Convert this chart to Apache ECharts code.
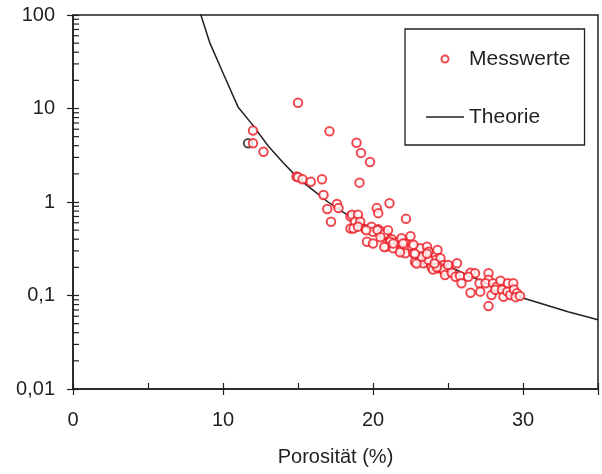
<!DOCTYPE html>
<html>
<head>
<meta charset="utf-8">
<script src="https://cdn.jsdelivr.net/npm/echarts@6/dist/echarts.min.js"></script>
<style>html,body{margin:0;padding:0;background:#fff;}#c{width:602px;height:474px;}</style>
</head>
<body>
<div id="c"></div>
<script>
// Messwerte: Porosität (%) and measured values
const messX = [15.0, 12.0, 12.0, 12.7, 17.1, 18.9, 19.2, 19.8, 14.9, 15.0, 15.3, 15.85, 16.6, 16.7, 16.95, 17.2, 17.6, 17.7, 19.1, 18.5, 18.5,
  21.1, 20.25, 20.35, 22.2, 18.6, 19.0, 18.8, 19.15, 18.7, 19.0, 19.5, 19.9, 20.0, 20.35, 20.6, 20.7, 19.6, 20.0, 20.9, 21.25, 21.15, 20.9, 21.35,
  21.7, 21.9, 22.15, 22.5, 21.9, 22.25, 22.6, 22.15, 22.7, 23.15, 23.6, 23.7, 24.3, 22.8, 23.15, 23.5, 23.6, 23.9, 24.15, 24.5, 24.35, 24.7, 24.8, 25.0,
  23.35, 23.7, 24.0, 24.35, 24.7, 25.0, 24.8, 25.25, 25.6, 25.5, 25.8, 25.9, 26.5, 26.8, 26.35, 27.1, 26.5, 27.15, 27.7, 27.7, 27.5, 27.9, 27.7,
  28.0, 28.25, 28.5, 28.15, 28.6, 28.7, 29.0, 28.95, 29.15, 29.35, 29.4, 29.6, 29.5, 29.8,
  19.55, 20.3, 20.75, 20.5, 21.0, 20.75, 21.35, 21.8, 22.0, 22.7, 22.9, 23.25, 23.6, 24.25, 24.1, 22.8];
const messY = [11.5, 5.8, 4.25, 3.45, 5.7, 4.3, 3.35, 2.68, 1.87, 1.84, 1.75, 1.65, 1.75, 1.19, 0.84, 0.615, 0.95, 0.86, 1.61, 0.70, 0.52,
  0.97, 0.86, 0.76, 0.66, 0.73, 0.73, 0.615, 0.615, 0.52, 0.545, 0.51, 0.545, 0.48, 0.51, 0.48, 0.43, 0.376, 0.36, 0.445, 0.40, 0.376, 0.333, 0.32,
  0.376, 0.41, 0.36, 0.43, 0.307, 0.32, 0.333, 0.283, 0.283, 0.32, 0.333, 0.294, 0.307, 0.23, 0.24, 0.26, 0.23, 0.203, 0.24, 0.25, 0.195, 0.212, 0.18, 0.195,
  0.221, 0.24, 0.19, 0.203, 0.19, 0.212, 0.166, 0.175, 0.221, 0.159, 0.162, 0.135, 0.175, 0.173, 0.159, 0.135, 0.107, 0.11, 0.173, 0.147, 0.135, 0.101, 0.077,
  0.135, 0.124, 0.144, 0.115, 0.115, 0.097, 0.135, 0.11, 0.101, 0.135, 0.116, 0.106, 0.096, 0.099,
  0.50, 0.50, 0.455, 0.42, 0.50, 0.33, 0.36, 0.29, 0.36, 0.35, 0.22, 0.26, 0.28, 0.20, 0.22, 0.28];
// single dark marker partly hidden behind a red one
const extraX = [11.67];
const extraY = [4.25];
// Theorie curve
const theoX = [8.42, 9.13, 10, 11, 12, 13, 14, 15, 16, 17, 18, 19, 20, 22, 24, 26, 28, 30, 33, 35];
const theoY = [113, 50, 24, 10.4, 6.6, 4.0, 2.65, 1.8, 1.34, 1.0, 0.78, 0.63, 0.50, 0.35, 0.245, 0.174, 0.126, 0.094, 0.067, 0.055];
// Axis ticks
const yMajorLabels = {0.01: '0,01', 0.1: '0,1', 1: '1', 10: '10', 100: '100'};
const yMinorTicks = [0.02,0.03,0.04,0.05,0.06,0.07,0.08,0.09, 0.2,0.3,0.4,0.5,0.6,0.7,0.8,0.9, 2,3,4,5,6,7,8,9, 20,30,40,50,60,70,80,90];
const xLabelled = [0, 10, 20, 30];

const zip = (a, b) => a.map((v, i) => [v, b[i]]);
const ink = '#231f20';
const red = '#ec1c24';
const font = "'Liberation Sans', Arial, sans-serif";

const chart = echarts.init(document.getElementById('c'));
chart.setOption({
  animation: false,
  backgroundColor: '#fff',
  textStyle: {fontFamily: font, color: ink},
  grid: {left: 73, right: 4, top: 15, bottom: 85, show: true, borderColor: ink, borderWidth: 1.5, backgroundColor: 'transparent'},
  legend: {
    left: 405, top: 29, orient: 'vertical',
    data: [{name: 'Messwerte', icon: 'emptyCircle'}, {name: 'Theorie', icon: 'path://M0,0L38,0L38,1.5L0,1.5Z'}],
    itemWidth: 38, itemHeight: 7, itemGap: 34,
    padding: [18, 14, 16, 21],
    borderColor: ink, borderWidth: 1.3, backgroundColor: '#fff',
    textStyle: {fontFamily: font, fontSize: 21, color: ink, lineHeight: 24}
  },
  xAxis: [{
    type: 'value', min: 0, max: 35, interval: 5, position: 'bottom',
    name: 'Porosität (%)', nameLocation: 'middle', nameGap: 58,
    nameTextStyle: {fontFamily: font, fontSize: 20, color: ink},
    axisLine: {show: true, lineStyle: {color: ink, width: 1.5}},
    axisTick: {show: true, inside: true, length: 6, lineStyle: {color: ink, width: 1.2}},
    axisLabel: {fontFamily: font, fontSize: 20, color: ink, margin: 21,
      formatter: v => xLabelled.indexOf(v) >= 0 ? String(v) : ''},
    splitLine: {show: false}
  }, {
    type: 'value', min: 0, max: 35, interval: 10, position: 'bottom', offset: 0,
    axisLine: {show: false},
    axisTick: {show: true, inside: false, length: 6, lineStyle: {color: ink, width: 1.2}},
    axisLabel: {show: false}, splitLine: {show: false}
  }],
  yAxis: [{
    type: 'log', logBase: 10, min: 0.01, max: 100, position: 'left',
    axisLine: {show: true, lineStyle: {color: ink, width: 1.5}},
    axisTick: {show: true, inside: true, length: 6, lineStyle: {color: ink, width: 1.2}},
    axisLabel: {fontFamily: font, fontSize: 20, color: ink, margin: 18,
      formatter: v => { const k = Object.keys(yMajorLabels).find(key => Math.abs(Math.log10(+key) - Math.log10(v)) < 1e-6); return k ? yMajorLabels[k] : ''; }},
    splitLine: {show: false}
  }, {
    type: 'log', logBase: 10, min: 0.01, max: 100, position: 'left', offset: 0,
    axisLine: {show: false},
    axisTick: {show: true, inside: false, length: 6, lineStyle: {color: ink, width: 1.2}},
    axisLabel: {show: false}, splitLine: {show: false}
  }],
  series: [{
    type: 'custom', name: 'minorTicks', xAxisIndex: 0, yAxisIndex: 0, silent: true, clip: false, z: 5,
    data: yMinorTicks.map(v => [0, v]),
    renderItem: (params, api) => {
      const p = api.coord([api.value(0), api.value(1)]);
      return {type: 'line', shape: {x1: p[0], y1: p[1], x2: p[0] + 6, y2: p[1]}, style: {stroke: ink, lineWidth: 1.2}};
    }
  }, {
    type: 'line', name: 'Theorie', data: zip(theoX, theoY), symbol: 'none', smooth: false, clip: true,
    lineStyle: {color: ink, width: 1.5}, itemStyle: {color: ink}, z: 2
  }, {
    type: 'scatter', name: 'extra', data: zip(extraX, extraY), symbol: 'emptyCircle', symbolSize: 8.5,
    itemStyle: {color: ink, borderWidth: 1.8}, z: 3
  }, {
    type: 'scatter', name: 'Messwerte', data: zip(messX, messY), symbol: 'emptyCircle', symbolSize: 8.5,
    itemStyle: {color: red, borderColor: red, borderWidth: 1.8}, z: 4
  }]
});
</script>
</body>
</html>
